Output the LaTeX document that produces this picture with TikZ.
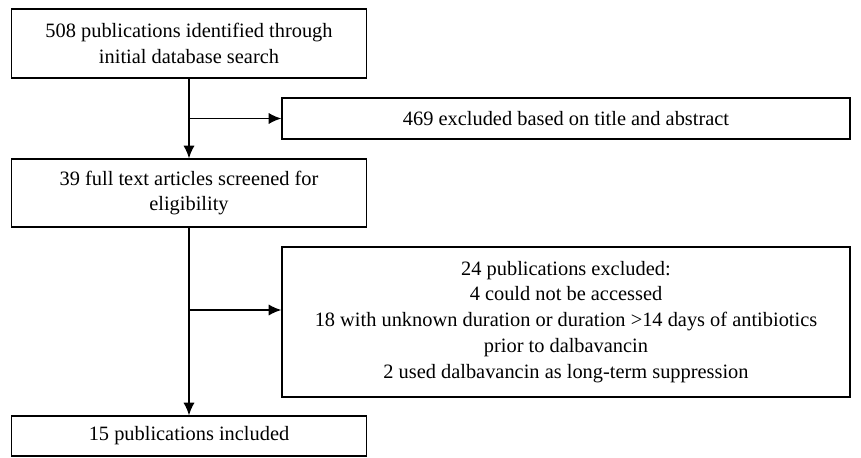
\documentclass[tikz,border=0pt]{standalone}
\usepackage{fontspec}
\setmainfont{Liberation Serif}
\usetikzlibrary{arrows.meta}
\tikzset{
  stagebox/.style={draw, line width=1pt, align=center, font=\fontsize{14.5}{18.4}\selectfont, inner sep=0pt},
  flowarrow/.style={line width=1pt, -{Latex[length=9pt,width=8pt]}},
}
\begin{document}
\begin{tikzpicture}[x=0.025cm, y=-0.025cm]
  \useasboundingbox (0, 0) rectangle (861, 458);
  % main column
  \node [stagebox, minimum width=355*0.025cm, minimum height=69*0.025cm] (found) at (189, 43.5) {508 publications identified through\\initial database search};
  \node [stagebox, minimum width=355*0.025cm, minimum height=68*0.025cm] (screened) at (189, 193) {39 full text articles screened for\\eligibility};
  \node [stagebox, minimum width=355*0.025cm, minimum height=40*0.025cm] (included) at (189, 436) {15 publications included};
  % exclusions
  \node [stagebox, minimum width=568*0.025cm, minimum height=41*0.025cm] (excl1) at (566, 118.5) {469 excluded based on title and abstract};
  \node [stagebox, minimum width=568*0.025cm, minimum height=150*0.025cm] (excl2) at (566, 322) {24 publications excluded:\\4 could not be accessed\\18 with unknown duration or duration >14 days of antibiotics\\prior to dalbavancin\\2 used dalbavancin as long-term suppression};
  \coordinate (split1) at (189, 118.5);
  \coordinate (split2) at (189, 310);
  \draw [flowarrow] (found) -- (screened);
  \draw [flowarrow] (split1) -- (excl1);
  \draw [flowarrow] (screened) -- (included);
  \draw [flowarrow] (split2) -- (split2 -| excl2.west);
\end{tikzpicture}
\end{document}
